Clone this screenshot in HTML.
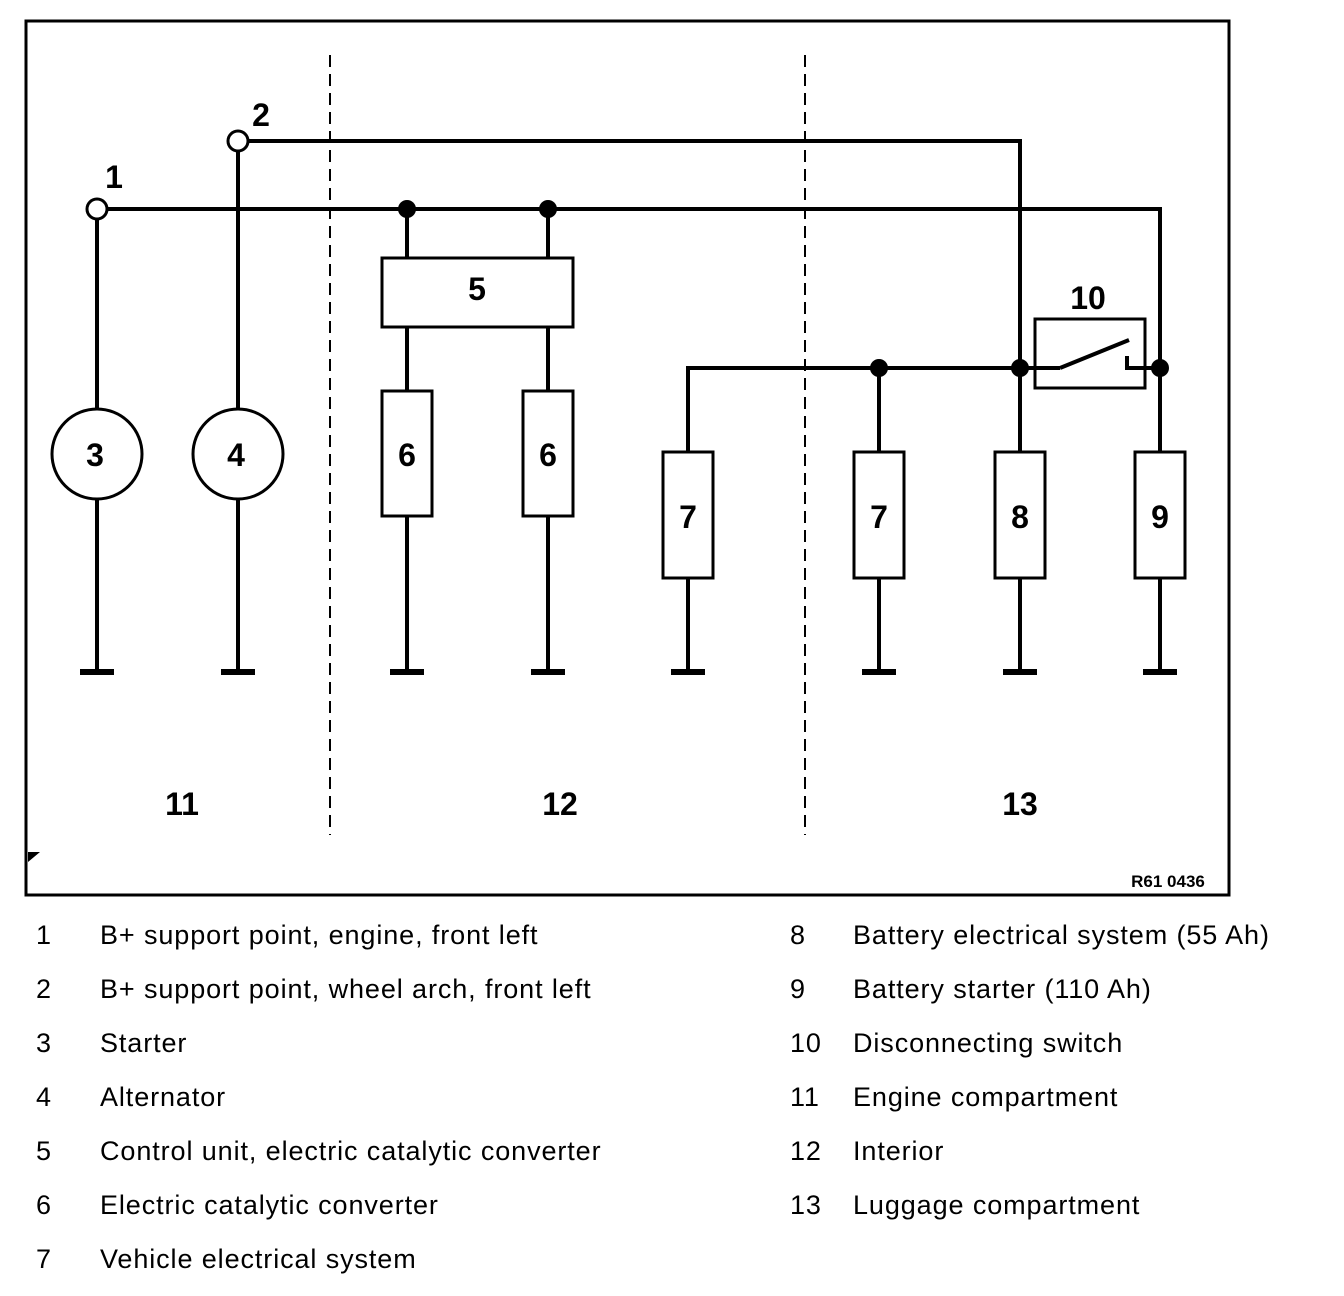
<!DOCTYPE html>
<html><head><style>body{margin:0;background:#fff}svg{display:block}</style></head><body>
<svg width="1344" height="1296" viewBox="0 0 1344 1296" xmlns="http://www.w3.org/2000/svg">
<g stroke="#000" fill="none" stroke-width="4">
<rect x="26" y="21" width="1203" height="874" stroke-width="3"/>
<line x1="330" y1="55" x2="330" y2="835" stroke-width="2" stroke-dasharray="12,7"/>
<line x1="805" y1="55" x2="805" y2="835" stroke-width="2" stroke-dasharray="12,7"/>
<polyline points="107,209 1160,209 1160,452"/>
<polyline points="248,141 1020,141 1020,452"/>
<line x1="97" y1="219" x2="97" y2="409"/><line x1="97" y1="499" x2="97" y2="672"/>
<line x1="238" y1="151" x2="238" y2="409"/><line x1="238" y1="499" x2="238" y2="672"/>
<circle cx="97" cy="209" r="10" stroke-width="3"/>
<circle cx="238" cy="141" r="10" stroke-width="3"/>
<circle cx="97" cy="454" r="45" stroke-width="3"/>
<circle cx="238" cy="454" r="45" stroke-width="3"/>
<line x1="407" y1="209" x2="407" y2="672"/><line x1="548" y1="209" x2="548" y2="672"/>
<rect x="382" y="258" width="191" height="69" fill="#fff" stroke-width="3"/>
<rect x="382" y="391" width="50" height="125" fill="#fff" stroke-width="3"/>
<rect x="523" y="391" width="50" height="125" fill="#fff" stroke-width="3"/>
<polyline points="688,672 688,368 1060,368"/>
<line x1="879" y1="368" x2="879" y2="672"/>
<line x1="1020" y1="452" x2="1020" y2="672"/>
<line x1="1160" y1="452" x2="1160" y2="672"/>
<rect x="663" y="452" width="50" height="126" fill="#fff" stroke-width="3"/>
<rect x="854" y="452" width="50" height="126" fill="#fff" stroke-width="3"/>
<rect x="995" y="452" width="50" height="126" fill="#fff" stroke-width="3"/>
<rect x="1135" y="452" width="50" height="126" fill="#fff" stroke-width="3"/>
<rect x="1035" y="319" width="110" height="69" stroke-width="3"/>
<line x1="1060" y1="368" x2="1129" y2="340"/>
<polyline points="1127,356 1127,368 1160,368"/>
</g>
<g fill="#000">
<circle cx="407" cy="209" r="9"/><circle cx="548" cy="209" r="9"/>
<circle cx="879" cy="368" r="9"/><circle cx="1020" cy="368" r="9"/><circle cx="1160" cy="368" r="9"/>
<rect x="80" y="669" width="34" height="6"/><rect x="221" y="669" width="34" height="6"/>
<rect x="390" y="669" width="34" height="6"/><rect x="531" y="669" width="34" height="6"/>
<rect x="671" y="669" width="34" height="6"/><rect x="862" y="669" width="34" height="6"/>
<rect x="1003" y="669" width="34" height="6"/><rect x="1143" y="669" width="34" height="6"/>
<polygon points="28,852 40,852 28,862"/>
</g>
<g font-family="Liberation Sans, sans-serif" font-weight="bold" font-size="32" text-anchor="middle">
<text x="114" y="188">1</text><text x="261" y="126">2</text>
<text x="95" y="466">3</text><text x="236" y="466">4</text>
<text x="477" y="300">5</text>
<text x="407" y="466">6</text><text x="548" y="466">6</text>
<text x="688" y="528">7</text><text x="879" y="528">7</text>
<text x="1020" y="528">8</text><text x="1160" y="528">9</text>
<text x="1088" y="309">10</text>
<text x="182" y="815">11</text><text x="560" y="815">12</text><text x="1020" y="815">13</text>
<text x="1168" y="887" font-size="17">R61 0436</text>
</g>
<g font-family="Liberation Sans, sans-serif" font-size="27" letter-spacing="0.9">
<text x="36" y="944">1</text><text x="100" y="944">B+ support point, engine, front left</text>
<text x="36" y="998">2</text><text x="100" y="998">B+ support point, wheel arch, front left</text>
<text x="36" y="1052">3</text><text x="100" y="1052">Starter</text>
<text x="36" y="1106">4</text><text x="100" y="1106">Alternator</text>
<text x="36" y="1160">5</text><text x="100" y="1160">Control unit, electric catalytic converter</text>
<text x="36" y="1214">6</text><text x="100" y="1214">Electric catalytic converter</text>
<text x="36" y="1268">7</text><text x="100" y="1268">Vehicle electrical system</text>
<text x="790" y="944">8</text><text x="853" y="944">Battery electrical system (55 Ah)</text>
<text x="790" y="998">9</text><text x="853" y="998">Battery starter (110 Ah)</text>
<text x="790" y="1052">10</text><text x="853" y="1052">Disconnecting switch</text>
<text x="790" y="1106">11</text><text x="853" y="1106">Engine compartment</text>
<text x="790" y="1160">12</text><text x="853" y="1160">Interior</text>
<text x="790" y="1214">13</text><text x="853" y="1214">Luggage compartment</text>
</g>
</svg>
</body></html>
